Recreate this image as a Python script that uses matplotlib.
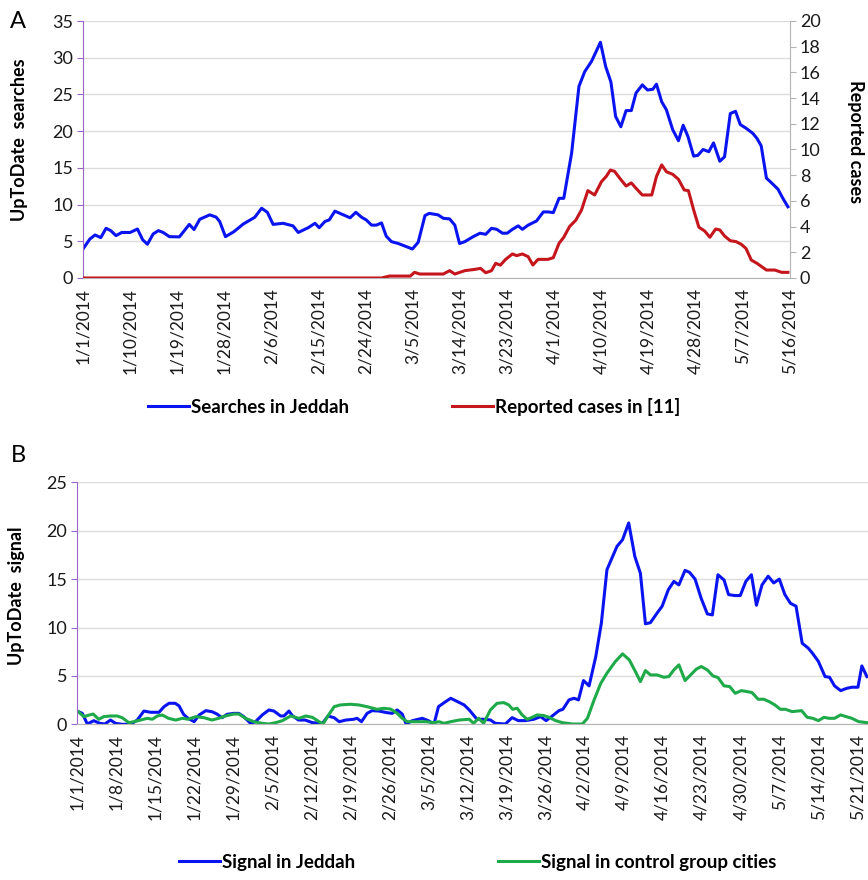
import matplotlib
matplotlib.use("Agg")
import matplotlib.pyplot as plt
import pandas as pd

START = pd.Timestamp("2014-01-01")

# ── Panel A: searches in Jeddah (left axis) and reported cases (right axis) ──
search_days = [0, 1.3, 2.3, 3.4, 4.4, 5.3, 6.3, 7.4, 9, 10.4, 11.4, 12.3, 13.4, 14.4, 15.3,
               16.5, 18.4, 20.3, 21.2, 22.3, 24.2, 25.4, 26.1, 27.2, 28.8, 30.6, 32.8, 34.1,
               35.2, 36.3, 38.2, 40.1, 41.1, 43, 44.3, 45.1, 46.2, 47, 48.1, 51, 52.1, 53.2,
               54.1, 55.1, 56, 57, 57.9, 58.9, 60.2, 62.9, 64, 65.3, 66.1, 67.8, 68.8, 70,
               71, 71.9, 72.9, 74.5, 75.8, 76.9, 78, 79, 80.1, 81, 82, 83.1, 83.9, 85, 86.6,
               87.9, 88.8, 89.8, 90.9, 91.8, 93.3, 94.7, 95.8, 97.1, 98.8, 99.8, 100.8,
               101.7, 102.7, 103.7, 104.7, 105.6, 106.8, 107.8, 108.8, 109.5, 110.5, 111.4,
               112.6, 113.7, 114.6, 115.5, 116.6, 117.4, 118.4, 119.5, 120.4, 121.6, 122.5,
               123.6, 124.6, 125.5, 126.6, 127.9, 128.7, 129.5, 130.5, 131.4, 132.7, 133.6,
               134.6]
searches = [3.95, 5.3, 5.86, 5.5, 6.77, 6.45, 5.77, 6.2, 6.2, 6.67, 5.2, 4.6, 6.0, 6.45, 6.2,
            5.63, 5.6, 7.3, 6.6, 8.0, 8.6, 8.3, 7.7, 5.63, 6.3, 7.35, 8.27, 9.5,
            8.95, 7.3, 7.45, 7.1, 6.2, 6.85, 7.45, 6.85, 7.7, 7.9, 9.1, 8.2, 8.95, 8.27,
            7.9, 7.2, 7.2, 7.5, 5.7, 4.95, 4.7, 3.95, 4.86, 8.5, 8.8, 8.6, 8.13, 8.05,
            7.2, 4.7, 4.95, 5.63, 6.1, 5.95, 6.77, 6.63, 6.1, 6.1, 6.63, 7.1, 6.63, 7.2, 7.77,
            9.0, 9.0, 8.9, 10.85, 10.85, 17.0, 26.1, 28.1, 29.5, 32.1, 28.8, 26.7,
            22.0, 20.6, 22.8, 22.8, 25.2, 26.3, 25.6, 25.7, 26.4, 24.0, 22.9,
            20.2, 18.7, 20.8, 19.3, 16.6, 16.7, 17.5, 17.2, 18.4, 15.9, 16.5,
            22.4, 22.7, 20.9, 20.4, 19.7, 19.0, 18.0, 13.6, 13.0, 12.1, 10.9,
            9.7]

case_days = [0, 57, 58.5, 62.5, 63.3, 64.3, 68.8, 70, 71, 72.9, 74.8, 75.9, 76.9, 78, 78.8,
             79.7, 80.7, 82, 82.8, 83.9, 85, 85.9, 86.9, 88.8, 89.8, 90.9, 91.8, 92.9, 94.1,
             95.2, 96.4, 97.7, 99, 99.9, 100.7, 101.5, 102.5, 103.7, 104.7, 105.6, 106.8,
             108.6, 109.5, 110.5, 111.4, 112.6, 113.7, 114.8, 115.6, 116.6, 117.6, 118.7,
             119.7, 120.8, 121.6, 122.5, 123.6, 124.7, 125.7, 126.6, 127.6, 128.7, 130.5,
             132.1, 133.4, 134.6]
cases = [0, 0, 0.15, 0.15, 0.44, 0.31, 0.31, 0.57, 0.31, 0.57, 0.67, 0.75, 0.41, 0.57, 1.14,
         1.0, 1.45, 1.87, 1.74, 1.87, 1.66, 1.01, 1.45, 1.45, 1.58, 2.7, 3.17, 4.0, 4.5,
         5.3, 6.8, 6.46, 7.5, 7.9, 8.4, 8.3, 7.76, 7.16, 7.4, 6.98, 6.46,
         6.46, 7.9, 8.8, 8.27, 8.07, 7.68, 6.85, 6.8, 5.3, 3.95, 3.66,
         3.17, 3.81, 3.74, 3.27, 2.9, 2.83, 2.62, 2.3, 1.4, 1.14, 0.62,
         0.62, 0.44, 0.44]

top_ticks = ["1/1/2014", "1/10/2014", "1/19/2014", "1/28/2014", "2/6/2014", "2/15/2014",
             "2/24/2014", "3/5/2014", "3/14/2014", "3/23/2014", "4/1/2014", "4/10/2014",
             "4/19/2014", "4/28/2014", "5/7/2014", "5/16/2014"]

# ── Panel B: UpToDate signal, Jeddah vs control cities ──────────────────────
jeddah_days = [0, 0.95, 1.85, 3, 4.1, 5, 6, 6.9, 8.1, 9.6, 10.8, 12, 13.2, 14.7, 15.6, 16.5,
               17.6, 18.3, 19.1, 19.9, 21, 21.9, 23.1, 24.2, 25.1, 26, 26.9, 28.1, 29, 29.9,
               31.1, 32, 33.2, 34.4, 35.3, 36.5, 37.1, 38, 38.6, 39.7, 40.9, 42.2, 44, 45,
               46.1, 47, 48.2, 49.6, 50.2, 51, 52, 52.9, 54.1, 55.6, 56.5, 57.4, 58.3, 59,
               60.1, 61.9, 63, 64, 64.8, 65.8, 67, 68.2, 69.4, 70.3, 71.7, 72.9, 74.1, 75,
               76.8, 78, 79.1, 80.4, 81.9, 83.1, 84.1, 85.2, 86.4, 87.1, 88.2, 89.1, 89.9,
               90.8, 91.8, 93, 94, 95, 95.9, 96.8, 97.8, 98.9, 100, 101, 101.9, 102.8, 104,
               104.9, 106, 107, 107.9, 109, 109.8, 110.8, 111.9, 113, 113.9, 114.9, 116,
               116.8, 117.9, 118.9, 119.9, 120.9, 121.8, 122.8, 123.9, 124.9, 125.9, 126.9,
               127.9, 128.9, 130, 131.1, 131.9, 132.9, 134.1, 134.9, 135.8, 136.9, 138,
               138.9, 140, 140.7, 141.6]
jeddah = [1.37, 1.13, 0.03, 0.37, 0.1, 0.03, 0.44, 0.1, 0, 0, 0.44, 1.37, 1.24, 1.24, 1.82, 2.17,
          2.17, 1.9, 1.03, 0.62, 0.27, 0.96, 1.41, 1.3, 1.06, 0.68, 1.03, 1.13, 1.13, 0.79,
          0.1, 0.27, 0.96, 1.48, 1.37, 0.86, 0.86, 1.37, 0.89, 0.44, 0.44, 0.17, 0.1, 0.86,
          0.68, 0.27, 0.44, 0.52, 0.62, 0.27, 1.13, 1.41, 1.37, 1.2, 1.13, 1.48, 1.06, 0.03,
          0.37, 0.62, 0.37, 0.03, 1.82, 2.23, 2.69, 2.34, 2.0, 1.5, 0.52, 0.52, 0.45, 0.1,
          0.03, 0.69, 0.38, 0.38, 0.52, 0.79, 0.38, 0.86, 1.41, 1.55, 2.52, 2.69, 2.52,
          4.52, 3.97, 7.0, 10.45, 15.97, 17.17, 18.38, 19.07, 20.8, 17.34, 15.6, 10.38, 10.5, 11.5,
          12.2, 13.9, 14.76, 14.4, 15.9, 15.7, 15.0, 13.0, 11.4, 11.3, 15.45, 14.9,
          13.4, 13.3, 13.3, 14.76, 15.45, 12.3, 14.4, 15.3, 14.6, 15.0, 13.4,
          12.5, 12.2, 8.38, 7.86, 7.3, 6.5, 4.93, 4.86, 3.97, 3.48, 3.72,
          3.83, 3.83, 6.03, 4.93]

control_days = [0, 1.25, 2.2, 2.9, 3.9, 4.8, 6, 7.2, 8.1, 9.3, 10.2, 11.4, 12.6, 13.5, 14.4,
                15.3, 16.4, 17.7, 18.9, 19.9, 21.3, 22.8, 24.2, 25.4, 26.6, 28.1, 29, 30.2,
                31.7, 33.2, 34.4, 35.6, 36.8, 38.3, 39.8, 41, 42.2, 43.2, 44.1, 44.9, 46.1,
                47.2, 49, 50.5, 52, 53.8, 55, 56.2, 57.4, 58.3, 59.2, 60.7, 62.5, 64, 64.9,
                65.8, 67, 68.5, 70.3, 71.1, 72, 72.9, 74.1, 75.3, 76.5, 77.4, 78.1, 78.9,
                79.8, 80.7, 81.6, 82.5, 83.7, 84.6, 85.8, 87, 88.8, 90.6, 91.5, 92.7, 93.9,
                95, 96.5, 97.8, 99, 100.1, 101, 101.9, 102.8, 104, 105.2, 106.1, 107, 107.9,
                109, 110, 111, 111.9, 113, 114, 114.9, 116, 117, 118, 119.1, 120.1, 121,
                122.1, 123.1, 124.1, 125.1, 126.1, 127, 128.2, 129.9, 130.9, 131.9, 132.9,
                133.9, 134.8, 135.8, 136.9, 137.9, 138.9, 140.1, 141.6]
control = [1.41, 0.79, 0.96, 1.06, 0.52, 0.79, 0.86, 0.86, 0.68, 0.17, 0.27, 0.44, 0.62, 0.52, 0.86,
           0.96, 0.62, 0.44, 0.62, 0.52, 0.79, 0.68, 0.44, 0.62, 0.86, 1.06, 1.06, 0.62,
           0.27, 0.1, 0.03, 0.17, 0.37, 0.86, 0.62, 0.86, 0.72, 0.34, 0.03, 0.79, 1.82,
           2.0, 2.07, 2.0, 1.82, 1.55, 1.65, 1.58, 1.13, 0.62, 0.27, 0.27, 0.27, 0.17, 0.27,
           0.1, 0.27, 0.44, 0.52, 0.1, 0.62, 0.1, 1.48, 2.17, 2.24, 2.0, 1.55, 1.66,
           0.97, 0.52, 0.72, 0.97, 0.9, 0.72, 0.38, 0.17, 0.03, 0.03, 0.62, 2.52, 4.24,
           5.28, 6.48, 7.28, 6.66, 5.45, 4.41, 5.55, 5.1, 5.1, 4.86, 4.93, 5.62, 6.14,
           4.52, 5.1, 5.69, 5.97, 5.62, 5.0, 4.83, 3.97, 3.9, 3.2, 3.48, 3.38, 3.28,
           2.59, 2.59, 2.34, 2.0, 1.55, 1.55, 1.31, 1.41, 0.72, 0.62, 0.38,
           0.72, 0.62, 0.62, 0.97, 0.79, 0.62, 0.28, 0.17]

bottom_ticks = ["1/1/2014", "1/8/2014", "1/15/2014", "1/22/2014", "1/29/2014", "2/5/2014",
                "2/12/2014", "2/19/2014", "2/26/2014", "3/5/2014", "3/12/2014", "3/19/2014",
                "3/26/2014", "4/2/2014", "4/9/2014", "4/16/2014", "4/23/2014", "4/30/2014",
                "5/7/2014", "5/14/2014", "5/21/2014"]

BLUE = "#0a14f0"
RED = "#c4161c"
GREEN = "#1faa4a"
PURPLE = "#9a66cc"
GRID = "#dcdcdc"
AXIS_GREY = "#b4b4b4"
TICK_FONT = ["Lato", "DejaVu Sans"]
LEGEND_FONT = ["Lato", "DejaVu Sans"]
XTICK_SIZE = 12.5
YTICK_SIZE = 13
LABEL_SIZE = 13


def to_dates(days):
    return START + pd.to_timedelta(days, unit="D")


def style_axes(ax, tick_labels):
    ax.grid(axis="y", color=GRID, lw=1.0)
    ax.set_axisbelow(True)
    for side in ("top", "right"):
        ax.spines[side].set_visible(False)
    ax.spines["left"].set_color(PURPLE)
    ax.spines["bottom"].set_color(AXIS_GREY)
    ax.tick_params(axis="y", colors=PURPLE, length=4, labelcolor="#1a1a1a",
                   labelsize=YTICK_SIZE, pad=3)
    ticks = pd.to_datetime(tick_labels, format="%m/%d/%Y")
    ax.set_xticks(ticks)
    ax.set_xticklabels(tick_labels, rotation=90, fontsize=XTICK_SIZE, color="#1a1a1a",
                       family=TICK_FONT)
    ax.tick_params(axis="x", length=0, pad=7)
    for lab in ax.get_yticklabels():
        lab.set_family(TICK_FONT)


fig = plt.figure(figsize=(8.68, 8.80), dpi=100)

# ── Panel A ──
ax = fig.add_axes([83 / 868, 1 - 278 / 880, 707 / 868, 257 / 880])
ax.plot(to_dates(search_days), searches, color=BLUE, lw=2.2)
ax.set_ylim(0, 35)
ax.set_yticks(range(0, 36, 5))
ax.set_xlim(to_dates(0), to_dates(135))
style_axes(ax, top_ticks)
ax.set_ylabel("UpToDate  searches", fontsize=LABEL_SIZE, fontweight="bold", family=TICK_FONT)
ax.yaxis.set_label_coords(-0.078, 0.54)

ax2 = ax.twinx()
ax2.plot(to_dates(case_days), cases, color=RED, lw=2.2)
ax2.set_ylim(0, 20)
ax2.set_yticks(range(0, 21, 2))
ax2.set_xlim(to_dates(0), to_dates(135))
for side in ("top", "left", "bottom"):
    ax2.spines[side].set_visible(False)
ax2.spines["right"].set_color(AXIS_GREY)
ax2.tick_params(axis="y", colors=AXIS_GREY, length=4, labelcolor="#1a1a1a",
                labelsize=YTICK_SIZE, pad=3)
for lab in ax2.get_yticklabels():
    lab.set_family(TICK_FONT)
ax2.set_ylabel("Reported cases", fontsize=LABEL_SIZE, fontweight="bold", family=TICK_FONT,
               rotation=270, va="bottom")
ax2.yaxis.set_label_coords(1.08, 0.53)

fig.text(18 / 868, 1 - 22 / 880, "A", fontsize=17, ha="center", va="center",
         family=TICK_FONT)

h1, = ax.plot([], [], color=BLUE, lw=2.2)
h2, = ax.plot([], [], color=RED, lw=2.2)
fig.legend([h1, h2], ["Searches in Jeddah", "Reported cases in [11]"],
           loc="center", bbox_to_anchor=(0.477, 1 - 407 / 880), ncol=2, frameon=False,
           handlelength=2.2, handletextpad=0.1, columnspacing=5.5,
           prop={"family": LEGEND_FONT, "weight": "bold", "size": 13.5})

# ── Panel B ──
bx = fig.add_axes([77 / 868, 1 - 724.3 / 880, 791 / 868, 242 / 880])
bx.plot(to_dates(jeddah_days), jeddah, color=BLUE, lw=2.2)
bx.plot(to_dates(control_days), control, color=GREEN, lw=2.2)
bx.set_ylim(0, 25)
bx.set_yticks(range(0, 26, 5))
bx.set_xlim(to_dates(0), to_dates(141.8))
style_axes(bx, bottom_ticks)
bx.set_ylabel("UpToDate  signal", fontsize=LABEL_SIZE, fontweight="bold", family=TICK_FONT)
bx.yaxis.set_label_coords(-0.066, 0.53)

fig.text(18 / 868, 1 - 455 / 880, "B", fontsize=17, ha="center", va="center",
         family=TICK_FONT)

fig.legend([bx.lines[0], bx.lines[1]], ["Signal in Jeddah", "Signal in control group cities"],
           loc="center", bbox_to_anchor=(0.55, 1 - 862 / 880), ncol=2, frameon=False,
           handlelength=2.2, handletextpad=0.1, columnspacing=7.6,
           prop={"family": LEGEND_FONT, "weight": "bold", "size": 13.5})

fig.savefig("out.png", dpi=100)
